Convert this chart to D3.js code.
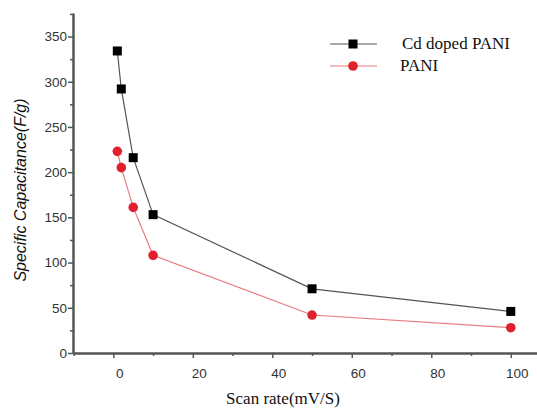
<!DOCTYPE html>
<html>
<head>
<meta charset="utf-8">
<script src="https://cdn.jsdelivr.net/npm/d3@7"></script>
<style>
  body { margin: 0; background: #fff; }
  .tick text { font-family: "Liberation Sans", Arial, sans-serif; font-size: 13.5px; fill: #333; }
</style>
</head>
<body>
<div id="chart"></div>
<script>
const scanRate = [1, 2, 5, 10, 50, 100];
const cdPani = [334, 292, 216, 153, 71, 46];
const pani = [223, 205, 161, 108, 42, 28];
const seriesNames = ["Cd doped PANI", "PANI"];
const xTicks = [0, 20, 40, 60, 80, 100];
const yTicks = [0, 50, 100, 150, 200, 250, 300, 350];

const svgWidth = 537, svgHeight = 408;
const margin = {top: 13, right: 0, bottom: 55, left: 73};
const chartWidth = svgWidth - margin.left - margin.right;
const chartHeight = svgHeight - margin.top - margin.bottom;

const svg = d3.select("#chart").append("svg")
    .attr("width", svgWidth)
    .attr("height", svgHeight);

const chart = svg.append("g")
    .attr("transform", `translate(${margin.left}, ${margin.top})`);

// scales
const xScale = d3.scaleLinear().domain([-10.15, 106.6]).range([0, chartWidth]);
const yScale = d3.scaleLinear().domain([0, 376]).range([chartHeight, 0]);

// minor ticks
const xMinor = d3.range(-10, 101, 10).filter(v => !xTicks.includes(v));
const yMinor = d3.range(25, 376, 50);

chart.append("g")
    .attr("transform", `translate(0, ${chartHeight})`)
    .call(d3.axisBottom(xScale).tickValues(xMinor).tickSize(3).tickFormat(""))
    .call(g => g.select(".domain").remove())
    .selectAll("line").attr("stroke", "#555").attr("stroke-width", 1.5);

chart.append("g")
    .call(d3.axisLeft(yScale).tickValues(yMinor).tickSize(3).tickFormat(""))
    .call(g => g.select(".domain").remove())
    .selectAll("line").attr("stroke", "#555").attr("stroke-width", 1.5);

// axes
const xAxis = chart.append("g")
    .attr("transform", `translate(0, ${chartHeight})`)
    .call(d3.axisBottom(xScale).tickValues(xTicks).tickSize(5).tickSizeOuter(0).tickPadding(10));
xAxis.selectAll("text").attr("dx", 6);

const yAxis = chart.append("g")
    .call(d3.axisLeft(yScale).tickValues(yTicks).tickSize(5).tickSizeOuter(0).tickPadding(1));

[xAxis, yAxis].forEach(a => {
    a.select(".domain").attr("stroke", "#555").attr("stroke-width", 2.5);
    a.selectAll(".tick line").attr("stroke", "#555").attr("stroke-width", 1.5);
});

// series
const series = [
    {name: seriesNames[0], values: cdPani, line: "#555", fill: "#000", shape: "square"},
    {name: seriesNames[1], values: pani, line: "#e87a80", fill: "#e0202c", shape: "circle"}
];

const line = d3.line()
    .x((d, i) => xScale(scanRate[i]))
    .y(d => yScale(d));

function drawMarker(g, s, x, y) {
    if (s.shape === "square") {
        g.append("rect")
            .attr("x", x - 4.5).attr("y", y - 4.5)
            .attr("width", 9).attr("height", 9)
            .attr("fill", s.fill);
    } else {
        g.append("circle")
            .attr("cx", x).attr("cy", y).attr("r", 4.8)
            .attr("fill", s.fill);
    }
}

series.forEach(s => {
    chart.append("path")
        .datum(s.values)
        .attr("fill", "none")
        .attr("stroke", s.line)
        .attr("stroke-width", 1.2)
        .attr("d", line);
    const g = chart.append("g");
    s.values.forEach((v, i) => drawMarker(g, s, xScale(scanRate[i]), yScale(v)));
});

// legend
const legend = svg.append("g");
series.forEach((s, i) => {
    const y = 44 + i * 22;
    legend.append("line")
        .attr("x1", 330).attr("x2", 377).attr("y1", y).attr("y2", y)
        .attr("stroke", s.line).attr("stroke-width", 1.2);
    drawMarker(legend, s, 353, y);
    legend.append("text")
        .attr("x", i === 0 ? 402 : 400).attr("y", y + 5)
        .attr("font-family", "Liberation Serif, Times New Roman, serif")
        .attr("font-size", 17)
        .attr("fill", "#111")
        .text(s.name);
});

// axis labels
svg.append("text")
    .attr("text-anchor", "middle")
    .attr("x", 283)
    .attr("y", 404)
    .attr("font-family", "Liberation Serif, Times New Roman, serif")
    .attr("font-size", 17)
    .attr("fill", "#111")
    .text("Scan rate(mV/S)");

svg.append("text")
    .attr("transform", "rotate(-90)")
    .attr("text-anchor", "middle")
    .attr("x", -190)
    .attr("y", 26)
    .attr("font-family", "Liberation Sans, Arial, sans-serif")
    .attr("font-style", "italic")
    .attr("font-size", 16)
    .attr("fill", "#111")
    .text("Specific Capacitance(F/g)");
</script>
</body>
</html>
